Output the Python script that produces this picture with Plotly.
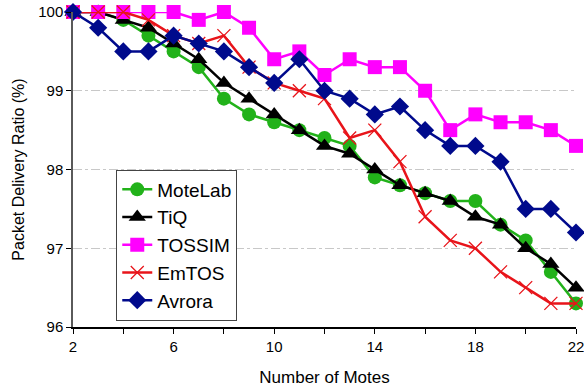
import plotly.graph_objects as go

motes = list(range(2, 23))

motelab = [100, 100, 99.9, 99.7, 99.5, 99.3, 98.9, 98.7, 98.6, 98.5, 98.4,
           98.3, 97.9, 97.8, 97.7, 97.6, 97.6, 97.3, 97.1, 96.7, 96.3]
tiq = [100, 100, 99.9, 99.8, 99.6, 99.4, 99.1, 98.9, 98.7, 98.5, 98.3,
       98.2, 98.0, 97.8, 97.7, 97.6, 97.4, 97.3, 97.0, 96.8, 96.5]
tossim = [100, 100, 100, 100, 100, 99.9, 100, 99.8, 99.4, 99.5, 99.2,
          99.4, 99.3, 99.3, 99.0, 98.5, 98.7, 98.6, 98.6, 98.5, 98.3]
emtos = [100, 100, 100, 99.9, 99.7, 99.6, 99.7, 99.3, 99.1, 99.0, 98.9,
         98.4, 98.5, 98.1, 97.4, 97.1, 97.0, 96.7, 96.5, 96.3, 96.3]
avrora = [100, 99.8, 99.5, 99.5, 99.7, 99.6, 99.5, 99.3, 99.1, 99.4, 99.0,
          98.9, 98.7, 98.8, 98.5, 98.3, 98.3, 98.1, 97.5, 97.5, 97.2]

x_ticks = list(range(2, 23, 2))
x_labels = [str(v) if (v - 2) % 4 == 0 else "" for v in x_ticks]
y_ticks = [96, 97, 98, 99, 100]

series = [
    ("MoteLab", motelab, "#22b21a", dict(symbol="circle", size=14)),
    ("TiQ", tiq, "#000000", dict(symbol="triangle-up", size=15)),
    ("TOSSIM", tossim, "#ff00ff", dict(symbol="square", size=14)),
    ("EmTOS", emtos, "#e8141a", dict(symbol="x-thin", size=13, line=dict(width=1.3, color="#e8141a"))),
    ("Avrora", avrora, "#000a8c", dict(symbol="diamond", size=14)),
]

fig = go.Figure()
for name, vals, color, mk in series:
    fig.add_trace(go.Scatter(
        x=motes, y=vals, name=name, mode="lines+markers",
        line=dict(color=color, width=2.5),
        marker=dict(color=color, **mk),
        cliponaxis=False,
    ))

fig.update_layout(
    width=584, height=387,
    margin=dict(l=73, r=8, t=12, b=60),
    paper_bgcolor="white", plot_bgcolor="white",
    font=dict(family="Liberation Sans, Arial, sans-serif", color="black", size=15),
    showlegend=True,
    legend=dict(
        x=0.086, y=0.50, xanchor="left", yanchor="top",
        bordercolor="#444444", borderwidth=1, bgcolor="white",
        font=dict(size=19), tracegroupgap=0, itemwidth=30,
    ),
    xaxis=dict(
        range=[2, 22], tickvals=x_ticks, ticktext=x_labels,
        ticklabeloverflow="allow", automargin=False,
        showgrid=False, zeroline=False,
        showline=True, linecolor="black", linewidth=1.5,
        ticks="outside", ticklen=5, tickcolor="black",
        title=dict(text="Number of Motes", font=dict(size=17), standoff=18),
    ),
    yaxis=dict(
        range=[96, 100], tickvals=y_ticks, ticktext=[str(v) for v in y_ticks],
        ticklabeloverflow="allow", automargin=False,
        showgrid=True, gridcolor="#c8c8c8", gridwidth=1.2, griddash="dashdot",
        zeroline=False,
        showline=True, linecolor="#5a5a5a", linewidth=1.5,
        ticks="outside", ticklen=5, tickcolor="black",
        title=dict(text="Packet Delivery Ratio (%)", font=dict(size=16), standoff=10),
    ),
)

fig.write_html("out.html")
